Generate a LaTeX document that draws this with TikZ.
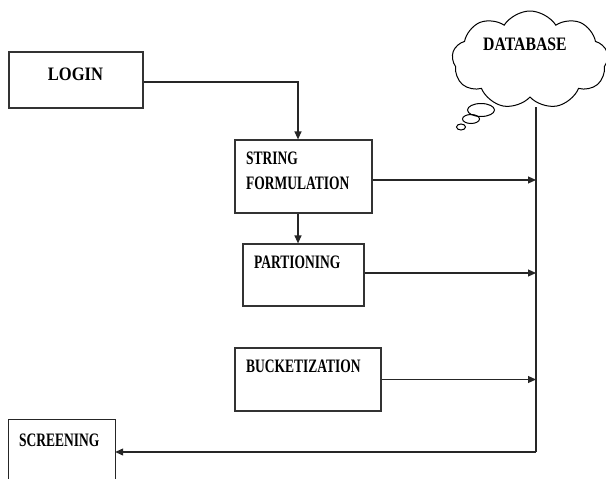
\documentclass[tikz,border=0pt]{standalone}
\usepackage{fontspec}
\setmainfont{Liberation Serif}
\usetikzlibrary{shapes.symbols,shapes.geometric,arrows.meta}

% condensed bold caption text
\newcommand\capt[2][0.71]{\scalebox{#1}[1]{\bfseries\fontsize{19}{22}\selectfont #2}}

\tikzset{
  box/.style={draw, line width=1.2pt, color=black!80, rectangle, inner sep=0pt},
  txt/.style={inner sep=0pt, text=black},
  conn/.style={line width=1.2pt, color=black!85},
  arr/.style={conn, -{Triangle[length=8pt,width=7pt]}},
  bubble/.style={draw, ellipse, line width=1pt, inner sep=0pt},
}

\begin{document}
\begin{tikzpicture}[x=1pt,y=-1pt]
\useasboundingbox (0,0) rectangle (606,479);

% boxes
\node[box, minimum width=134pt, minimum height=56pt] (login)  at (76,80) {};
\node[box, minimum width=137pt, minimum height=73pt] (string) at (303.5,176.5) {};
\node[box, minimum width=121pt, minimum height=62pt] (part)   at (303.5,275) {};
\node[box, minimum width=146pt, minimum height=63pt] (bucket) at (308,379.5) {};
\node[inner sep=0pt, minimum width=106pt, minimum height=59pt] (screen) at (62,449.5) {};
\draw[conn] (screen.south west) -- (screen.north west) -- (screen.north east) -- (screen.south east);

% database cloud with thought bubbles
\node[draw, cloud, cloud puffs=9, cloud puff arc=115, aspect=1.6, line width=1pt,
      minimum width=156pt, minimum height=98pt, inner sep=0pt] (db) at (530,60) {};
\node[bubble, minimum width=27pt, minimum height=13pt] (b1) at (481,110) {};
\node[bubble, minimum width=17pt, minimum height=9pt] (b2) at (471,119) {};
\node[bubble, minimum width=9pt, minimum height=6pt] (b3) at (461,127) {};

% captions
\node[txt, anchor=base] (logintxt) at (75.5,80) {\capt[0.87]{LOGIN}};
\node[txt, anchor=base west] (strtxt) at (246,164) {\capt{STRING}};
\node[txt, anchor=base west] (formtxt) at (246,189) {\capt{FORMULATION}};
\node[txt, anchor=base west] (parttxt) at (254,268) {\capt{PARTIONING}};
\node[txt, anchor=base west] (buckettxt) at (246,372) {\capt{BUCKETIZATION}};
\node[txt, anchor=base west] (screentxt) at (19,446) {\capt{SCREENING}};
\node[txt, anchor=base] (dbtxt) at (525,50) {\capt[0.83]{DATABASE}};

% vertical collector line under the database
\coordinate (dbdrop) at (536,107);
\coordinate (corner) at (536,452);
\draw[conn] (dbdrop) -- (corner);

% connectors
\draw[arr] ([yshift=-2pt]login.east) -| ([xshift=-5.5pt]string.north);
\draw[arr] ([xshift=-5.5pt]string.south) -- ([xshift=-5.5pt]string.south |- part.north);
\draw[arr] ([yshift=-3.5pt]string.east) -- ([yshift=-3.5pt]string.east -| corner);
\draw[arr] ([yshift=2pt]part.east) -- ([yshift=2pt]part.east -| corner);
\draw[arr] (bucket.east) -- (bucket.east -| corner);
\draw[arr] (corner) -- (corner -| screen.east);
\end{tikzpicture}
\end{document}
